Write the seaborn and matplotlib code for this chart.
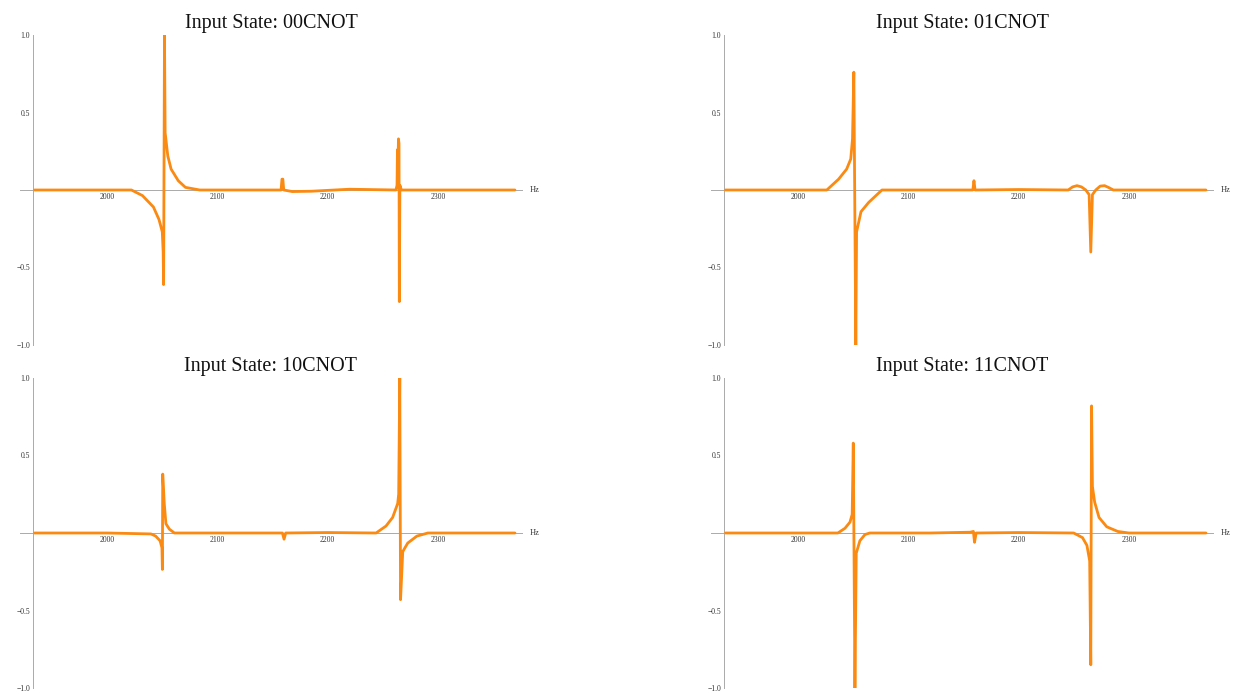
import matplotlib
matplotlib.use('Agg')
import matplotlib.pyplot as plt
import matplotlib.transforms as mtransforms
import seaborn as sns
import numpy as np

# Spectra (Hz vs normalised signal)
titles = ["Input State: 00CNOT", "Input State: 01CNOT",
          "Input State: 10CNOT", "Input State: 11CNOT"]

hz_00 = [1934, 2000, 2022, 2032, 2042, 2047, 2050, 2050.8, 2051.2, 2052.0, 2052.6, 2055, 2058,
         2064.5, 2071, 2084, 2130, 2157.8, 2158.6, 2159.4, 2160.2, 2168, 2185, 2220, 2262,
         2263, 2263.4, 2263.9, 2264.3, 2264.8, 2265.1, 2265.6, 2267, 2300, 2370]
sig_00 = [0, 0, 0, -0.036, -0.11, -0.19, -0.27, -0.40, -0.61, 1.0, 0.37, 0.22, 0.135,
          0.06, 0.017, 0, 0, 0, 0.07, 0.07, 0, -0.01, -0.008, 0.005, 0,
          0.03, 0.26, 0.18, 0.33, 0.30, -0.72, 0.03, 0, 0, 0]

hz_01 = [1934, 2000, 2026, 2036.7, 2044, 2047.7, 2049.3, 2050.5, 2052.3, 2053, 2057, 2064,
         2070, 2076, 2110, 2158.5, 2159.5, 2160.5, 2200, 2245, 2249, 2253, 2257, 2261,
         2264, 2265.5, 2267, 2270, 2274, 2278, 2282, 2286, 2300, 2370]
sig_01 = [0, 0, 0, 0.07, 0.135, 0.2, 0.33, 0.76, -1.0, -0.27, -0.14, -0.08,
          -0.04, 0, 0, 0, 0.06, 0, 0.003, 0, 0.02, 0.028, 0.02, 0.0,
          -0.03, -0.40, -0.03, 0.0, 0.025, 0.028, 0.015, 0, 0, 0]

hz_10 = [1934, 2000, 2039.7, 2044, 2048, 2049.7, 2050.1, 2050.4, 2051.8, 2053.3, 2056.4,
         2061, 2110, 2159, 2160.5, 2162, 2200, 2244, 2253, 2259, 2263.6, 2264.5, 2265.5,
         2266.2, 2268.2, 2272.7, 2281, 2291, 2330, 2370]
sig_10 = [0, 0, -0.006, -0.02, -0.05, -0.095, -0.235, 0.38, 0.19, 0.06, 0.025,
          0, 0, 0, -0.04, 0, 0.003, 0, 0.045, 0.1, 0.19, 0.25, 1.0,
          -0.43, -0.12, -0.065, -0.02, 0, 0, 0]

hz_11 = [1934, 2000, 2036, 2042.4, 2047, 2049, 2050, 2051.5, 2052.7, 2056, 2060.6, 2065,
         2120, 2156, 2159, 2160, 2161.5, 2200, 2250, 2258, 2262, 2264.5, 2265.5, 2266.2,
         2267, 2269, 2273, 2280, 2290, 2300, 2370]
sig_11 = [0, 0, 0, 0.03, 0.07, 0.12, 0.58, -1.0, -0.13, -0.05, -0.01, 0,
          0, 0.005, 0.01, -0.06, 0, 0.003, 0, -0.03, -0.08, -0.18, -0.85, 0.82,
          0.3, 0.2, 0.1, 0.04, 0.01, 0, 0]

hz_list = [hz_00, hz_01, hz_10, hz_11]
sig_list = [sig_00, sig_01, sig_10, sig_11]

x_ticks = [2000, 2100, 2200, 2300]
y_ticks = [-1.0, -0.5, 0.5, 1.0]
y_tick_labels = ["\u22121.0", "\u22120.5", "0.5", "1.0"]

sns.set_style('white')
plt.rcParams['font.family'] = ['Liberation Serif', 'DejaVu Serif']

line_color = '#FA8A12'
axis_color = '#aaaaaa'

fig = plt.figure(figsize=(12.4, 6.95), dpi=100)

W, H = 1240.0, 695.0
# left edge px of each axes, top px of each axes
lefts = [20, 711, 20, 711]
tops = [35, 35, 378, 378]
ax_w, ax_h = 502, 310

for i in range(4):
    ax = fig.add_axes([lefts[i] / W, 1 - (tops[i] + ax_h) / H, ax_w / W, ax_h / H])
    sns.lineplot(x=hz_list[i], y=sig_list[i], ax=ax, color=line_color,
                 linewidth=2.0, estimator=None, sort=False)
    ax.set_xlim(1920.9, 2376.4)
    ax.set_ylim(-1.0, 1.0)

    for s in ['top', 'right']:
        ax.spines[s].set_visible(False)
    ax.spines['left'].set_position(('data', 1932.7))
    ax.spines['bottom'].set_position(('data', 0))
    for s in ['left', 'bottom']:
        ax.spines[s].set_color(axis_color)
        ax.spines[s].set_linewidth(0.7)
        ax.spines[s].set_zorder(0)

    ax.set_xticks(x_ticks)
    ax.set_xticklabels([str(t) for t in x_ticks])
    ax.set_xticks(np.arange(1940, 2380, 20), minor=True)
    ax.set_yticks(y_ticks)
    ax.set_yticklabels(y_tick_labels)
    ax.set_yticks(np.arange(-1.0, 1.01, 0.1), minor=True)
    ax.tick_params(axis='both', which='major', labelsize=5.5, colors='#888888',
                   labelcolor='#333333', length=2.5, width=0.5, direction='in', pad=2)
    ax.tick_params(axis='both', which='minor', colors='#aaaaaa', length=1.3, width=0.4,
                   direction='in')
    ax.set_xlabel('')
    ax.set_ylabel('')

    trans = mtransforms.blended_transform_factory(ax.transAxes, ax.transData)
    ax.text(1.016, 0, 'Hz', transform=trans, fontsize=6, color='#333333',
            ha='left', va='center')

    ax.set_title(titles[i], fontsize=14.5, pad=5, color='#111111')
    ax.patch.set_alpha(0)

fig.savefig('out.png', dpi=100)
